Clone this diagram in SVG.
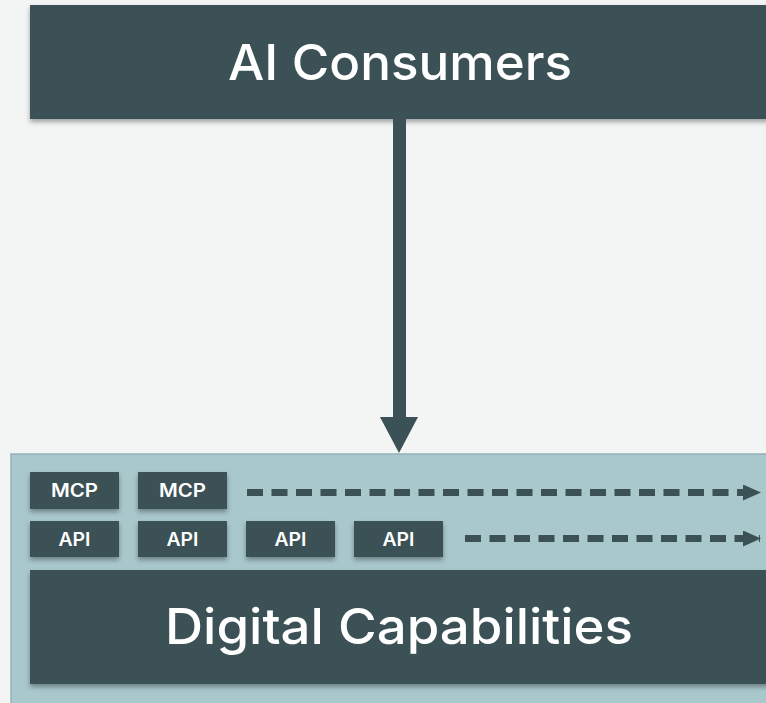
<svg xmlns="http://www.w3.org/2000/svg" width="766" height="703" viewBox="0 0 766 703">
<defs>
<filter id="sh" x="-10%" y="-20%" width="120%" height="150%">
<feDropShadow dx="0" dy="3" stdDeviation="2.5" flood-color="#000" flood-opacity="0.35"/>
</filter>
<marker id="dh" viewBox="0 0 18 16" refX="17" refY="8" markerWidth="18" markerHeight="16" markerUnits="userSpaceOnUse" orient="auto">
<path d="M0,0 L18,8 L0,16 Z" fill="#3b5155"/>
</marker>
<style>
.dark{fill:#3b5155}
.big{font-family:Inter,"Noto Sans",sans-serif;font-size:50px;font-weight:500;fill:#ffffff;text-anchor:middle;font-variant-ligatures:none}
.sm{font-family:Inter,"Liberation Sans",sans-serif;font-size:18px;font-weight:600;fill:#ffffff;text-anchor:middle}
.dash{stroke:#3b5155;stroke-width:7;stroke-dasharray:16 8.5;fill:none}
</style>
</defs>
<rect x="0" y="0" width="766" height="703" fill="#f3f5f5"/>
<g id="capabilities-container">
<rect x="11" y="454" width="770" height="260" fill="#a9c8cc" stroke="#93b3b7" stroke-width="1.5"/>
</g>
<g id="ai-consumers">
<rect class="dark" x="30" y="5" width="760" height="114" filter="url(#sh)"/>
<text class="big" x="400" y="80" textLength="344" lengthAdjust="spacingAndGlyphs">AI Consumers</text>
</g>
<g id="mcp1"><rect class="dark" x="30" y="472" width="89" height="37" filter="url(#sh)"/><text class="sm" x="74.5" y="497" textLength="47" lengthAdjust="spacingAndGlyphs">MCP</text></g>
<g id="mcp2"><rect class="dark" x="138" y="472" width="89" height="37" filter="url(#sh)"/><text class="sm" x="182.5" y="497" textLength="47" lengthAdjust="spacingAndGlyphs">MCP</text></g>
<g id="api1"><rect class="dark" x="30" y="521" width="89" height="36" filter="url(#sh)"/><text class="sm" x="74.5" y="546" textLength="32" lengthAdjust="spacingAndGlyphs">API</text></g>
<g id="api2"><rect class="dark" x="138" y="521" width="89" height="36" filter="url(#sh)"/><text class="sm" x="182.5" y="546" textLength="32" lengthAdjust="spacingAndGlyphs">API</text></g>
<g id="api3"><rect class="dark" x="246" y="521" width="89" height="36" filter="url(#sh)"/><text class="sm" x="290.5" y="546" textLength="32" lengthAdjust="spacingAndGlyphs">API</text></g>
<g id="api4"><rect class="dark" x="354" y="521" width="89" height="36" filter="url(#sh)"/><text class="sm" x="398.5" y="546" textLength="32" lengthAdjust="spacingAndGlyphs">API</text></g>
<g id="digital-capabilities">
<rect class="dark" x="30" y="570" width="760" height="114" filter="url(#sh)"/>
<text class="big" x="399" y="644" textLength="468" lengthAdjust="spacingAndGlyphs">Digital Capabilities</text>
</g>
<g id="connectors">
<rect class="dark" x="393" y="119" width="13" height="300"/>
<path class="dark" d="M380,417 L418,417 L399,453 Z"/>
<line class="dash" x1="247" y1="492.5" x2="760" y2="492.5" marker-end="url(#dh)"/>
<line class="dash" x1="465" y1="538.5" x2="760" y2="538.5" marker-end="url(#dh)"/>
</g>
</svg>
